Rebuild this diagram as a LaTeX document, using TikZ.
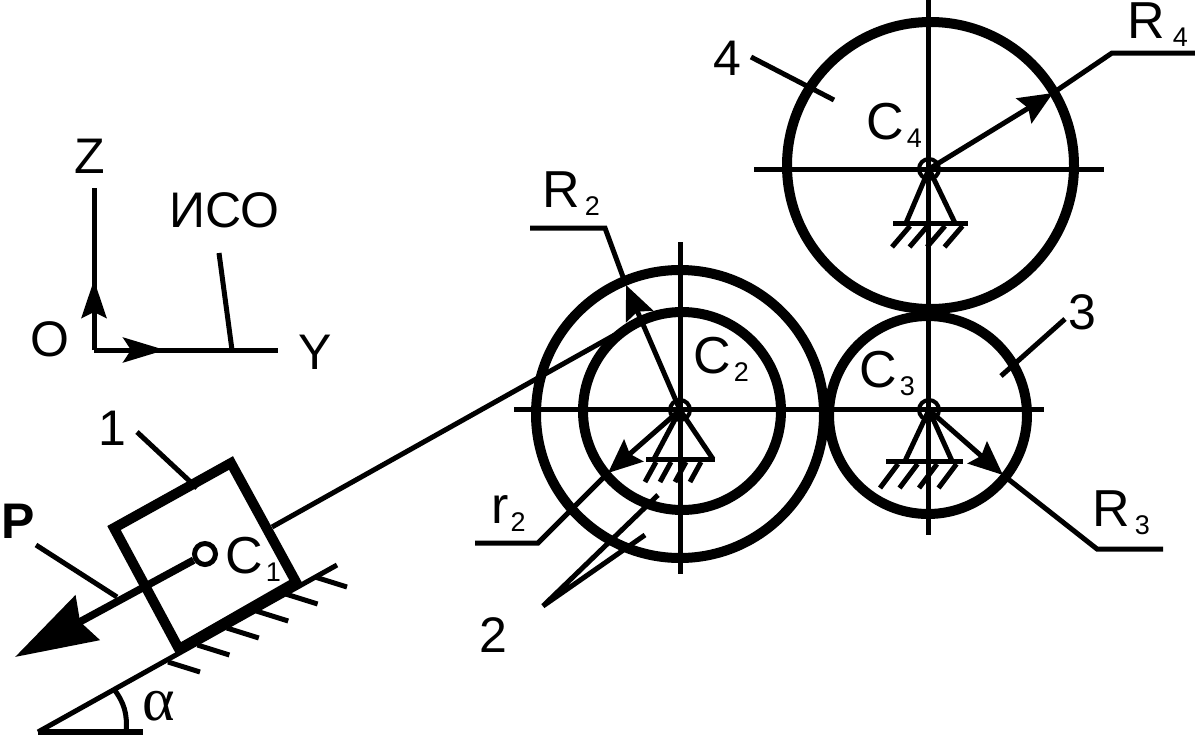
\documentclass[tikz,border=0pt]{standalone}
\usepackage{fontspec}
\setmainfont{Liberation Sans}
\newfontfamily\greekfont{Liberation Serif}
\usetikzlibrary{calc}
\usetikzlibrary{arrows.meta}
\newcommand{\numlabel}[3]{\fontsize{52}{52}\selectfont #1\kern#3\raisebox{-8pt}{\fontsize{27}{27}\selectfont #2}}
\tikzset{
    thinln/.style={line width=5pt},
    wheelln/.style={line width=10pt},
    headln/.style={thinln,-{Stealth[length=34pt,width=29pt,inset=5pt]}},
    txt/.style={anchor=base west,inner sep=0pt,font=\fontsize{50}{50}\selectfont},
}

\begin{document}
\begin{tikzpicture}[x=1pt,y=-1pt]
    \path[use as bounding box,fill=white] (0,0) rectangle (1195,736);

    \coordinate (c2) at (680,410);
    \coordinate (c3) at (929,410);
    \coordinate (c4) at (929,169);

    % wheels
    \draw[wheelln] (680,414) circle (144pt);
    \draw[wheelln] (682,411) circle (99pt);
    \draw[wheelln] (928,415) circle (99pt);
    \draw[wheelln] (930.5,165.5) circle (143.5pt);

    % centre lines
    \draw[thinln] (514,409) -- (1044,409);
    \draw[thinln] (754,169) -- (1104,169);
    \draw[thinln] (680,242) -- (680,574);
    \draw[thinln] (928,0) -- (928,535);

    % supports
    \foreach \hub/\la/\lb/\ba/\bb/\bh/\hs/\ht/\vx/\vy in {
        c2/-26/33/-34/35/49/-24/15/-11/20,
        c3/-24/23/-43/34/51/-31/19.5/-18/24,
        c4/-23/26/-36/39/54/-19/17.5/-18/21}{
        \draw[thinln] ($(\hub)+(\la,\bh)$) -- (\hub) -- ($(\hub)+(\lb,\bh)$);
        \draw[thinln] ($(\hub)+(\ba,\bh)$) -- ($(\hub)+(\bb,\bh)$);
        \foreach \i in {0,...,3}
            \draw[thinln] ($(\hub)+(\hs,\bh)+(\i*\ht,3)$) -- ++(\vx,\vy);
        \draw[line width=4pt] (\hub) circle (10pt);
    }

    % radii with their leaders
    \coordinate (r2tip) at (626,285);
    \coordinate (r2knee) at (605,228);
    \coordinate (r2end) at (530,228);
    \draw[headln] (c2) -- (r2tip);
    \draw[thinln] (r2tip) -- (r2knee) -- (r2end);

    \coordinate (r22tip) at (608,473);
    \coordinate (r22knee) at (538,543);
    \coordinate (r22end) at (475,543);
    \draw[headln] (c2) -- (r22tip);
    \draw[thinln] (r22tip) -- (r22knee) -- (r22end);

    \coordinate (r3tip) at (1003,475);
    \coordinate (r3knee) at (1097,549);
    \coordinate (r3end) at (1163,549);
    \draw[headln] (c3) -- (r3tip);
    \draw[thinln] (r3tip) -- (r3knee) -- (r3end);

    \coordinate (r4tip) at (1053,93);
    \coordinate (r4knee) at (1112,53);
    \coordinate (r4end) at (1195,53);
    \draw[headln] (c4) -- (r4tip);
    \draw[thinln] (r4tip) -- (r4knee) -- (r4end);

    % axes
    \coordinate (o) at (94,350);
    \coordinate (zend) at (94,188);
    \coordinate (yend) at (278,350);
    \draw[thinln] (o) -- (zend);
    \draw[thinln] (o) -- (yend);
    \draw[thinln,-{Stealth[length=38pt,width=25pt,inset=6pt]}] (o) -- (94,280);
    \draw[thinln,-{Stealth[length=42pt,width=25pt,inset=8pt]}] (o) -- (165,350);
    \coordinate (isotop) at (219,253);
    \coordinate (isofoot) at (232,350);
    \draw[thinln] (isotop) -- (isofoot);

    % incline
    \coordinate (slopea) at (38,732);
    \coordinate (slopeb) at (337,565);
    \coordinate (slopec) at (143,732);
    \draw[thinln] (slopea) -- (slopeb);
    \draw[line width=6pt] (slopea) -- (slopec);
    \draw[thinln] (113,688) to[bend left=22] (126,732);
    \foreach \i in {0,...,5}
        \draw[thinln] (315-29.4*\i,577+17*\i) -- ++(32,10);

    % block
    \draw[wheelln] (231,463) -- (114,528) -- (179,649) -- (296,582) -- cycle;
    \coordinate (blockrope) at (272,527);
    \coordinate (wheelrope) at (620,332);
    \draw[thinln] (blockrope) -- (wheelrope);
    \node (c1) [circle,draw,line width=5pt,minimum size=21pt,inner sep=0pt] at (205,554) {};
    \coordinate (ptip) at (15,657);
    \draw[line width=7.5pt,-{Stealth[length=82pt,width=50pt,inset=8pt]}] (c1) -- (ptip);

    % leaders
    \draw[thinln] (137,432) -- (197,488);
    \draw[thinln] (36,545) -- (117,597);
    \draw[thinln] (658,495) -- (543,606) -- (645,535);
    \draw[thinln] (1065,319) -- (1001,376);
    \draw[thinln] (751,57) -- (834,100);

    % labels
    \node (lz)   [txt] at (74,173)   {Z};
    \node (liso) [txt] at (169,227)  {ИСО};
    \node (lo)   [txt] at (30,356)   {O};
    \node (ly)   [txt] at (298,369)  {Y};
    \node (l1)   [txt] at (98,445)   {1};
    \node (l2)   [txt] at (479,652)  {2};
    \node (l3)   [txt] at (1068,329) {3};
    \node (l4)   [txt] at (713,75)   {4};
    \node (lp)   [txt] at (1,538)    {\bfseries P};
    \node (la)   [txt] at (142,720)  {\fontsize{62}{62}\selectfont\greekfont α};
    \node (lc1)  [txt] at (225,573)  {\numlabel{C}{1}{3pt}};
    \node (lc2)  [txt] at (693,373)  {\numlabel{C}{2}{3pt}};
    \node (lc3)  [txt] at (859,387)  {\numlabel{C}{3}{3pt}};
    \node (lc4)  [txt] at (866,139)  {\numlabel{C}{4}{3pt}};
    \node (lr2)  [txt] at (542,207)  {\numlabel{R}{2}{5pt}};
    \node (lr3)  [txt] at (1092,526) {\numlabel{R}{3}{5pt}};
    \node (lr4)  [txt] at (1127,38)  {\numlabel{R}{4}{8pt}};
    \node (lr22) [txt] at (491,523)  {\numlabel{r}{2}{2pt}};
\end{tikzpicture}
\end{document}
